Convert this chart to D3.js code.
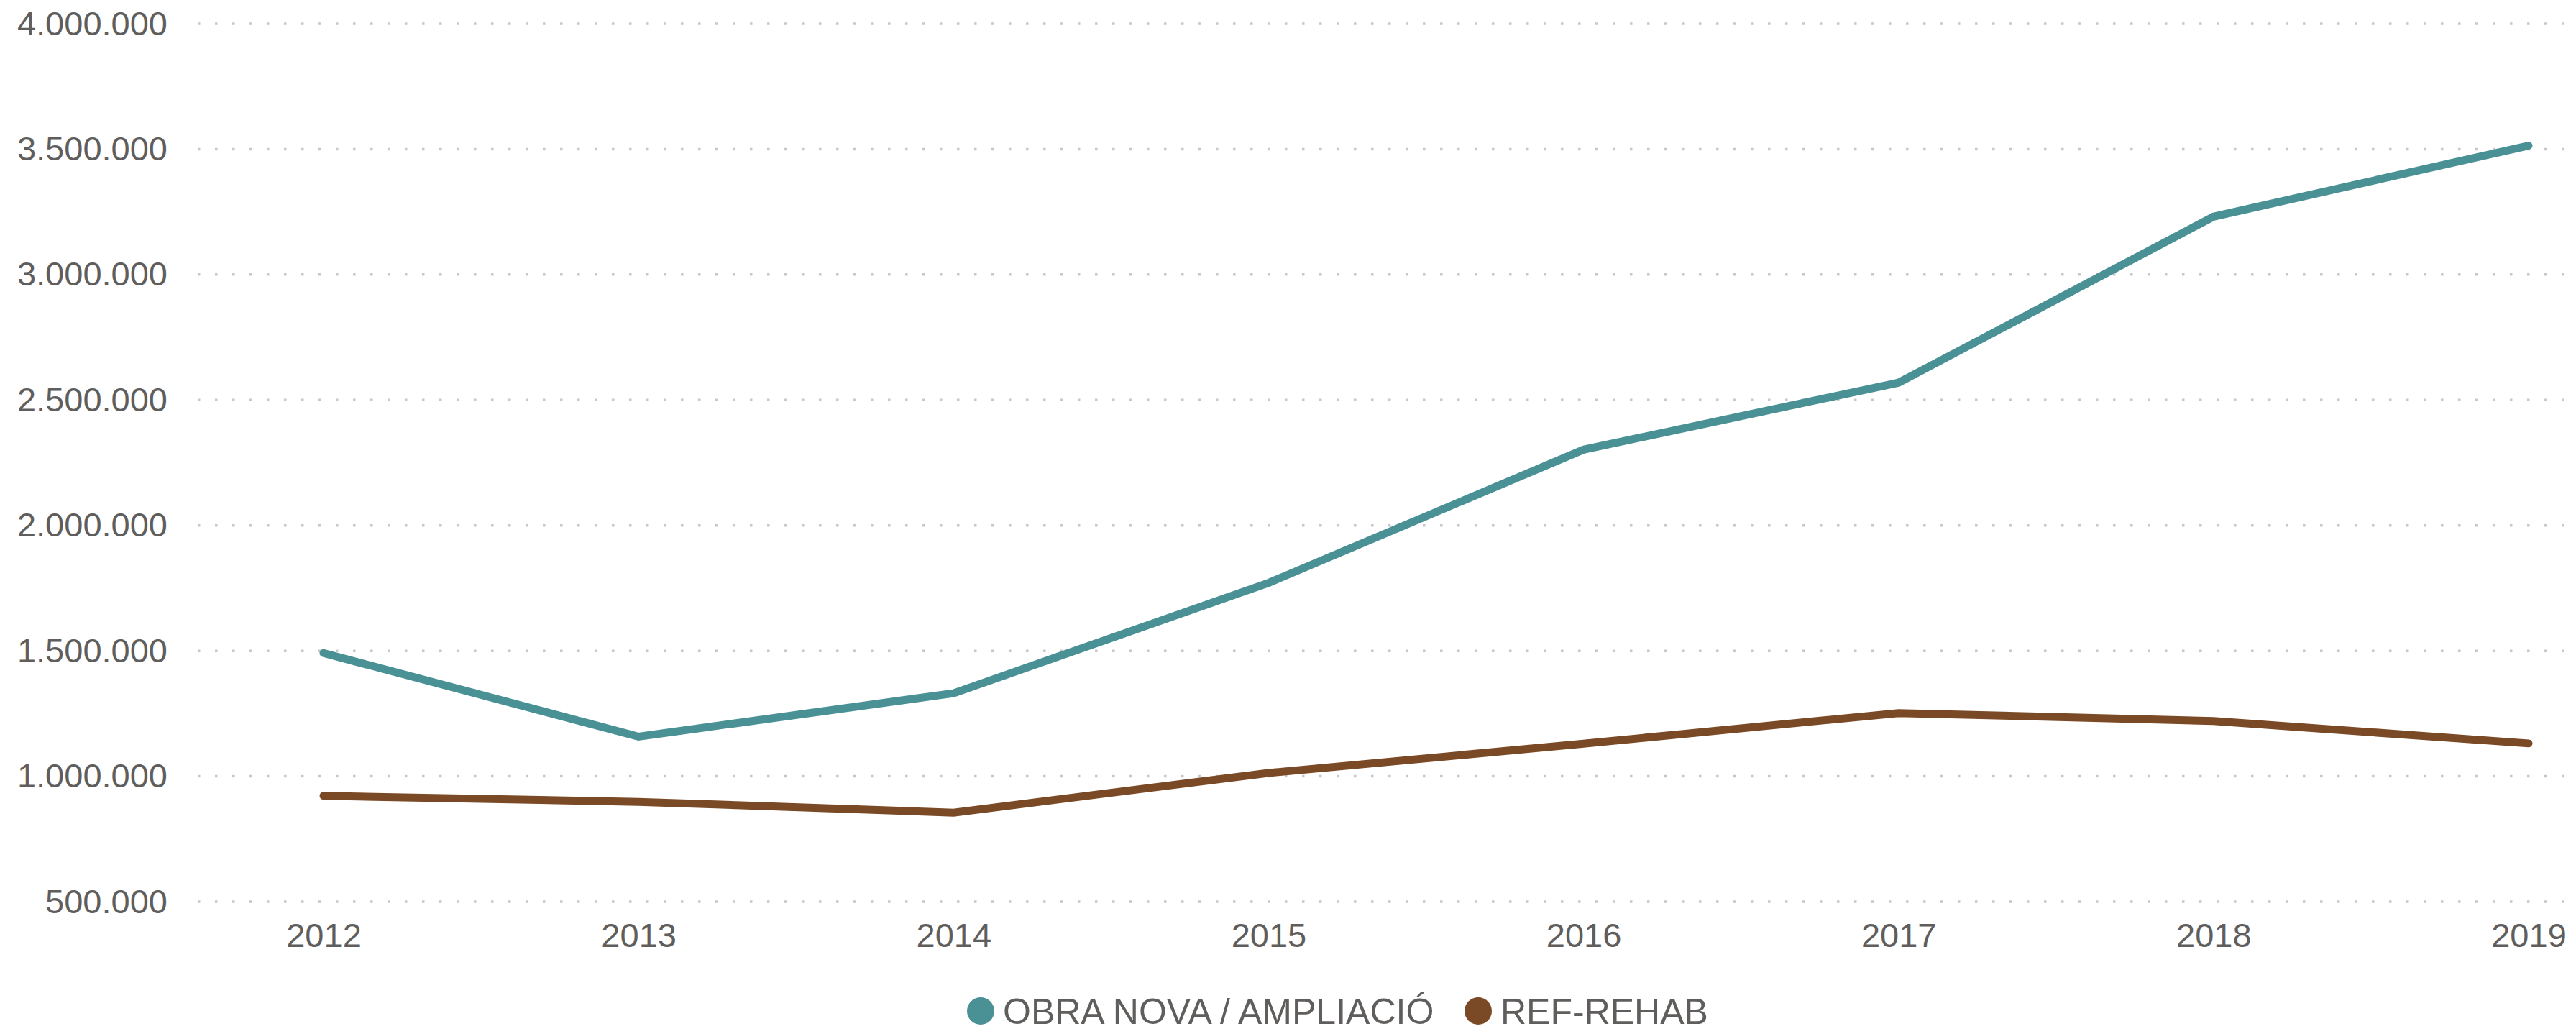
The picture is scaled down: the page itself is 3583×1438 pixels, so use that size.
<!DOCTYPE html>
<html lang="ca">
  <head>
    <meta charset="UTF-8" />
    <title>Obra nova / Ref-Rehab</title>
    <script src="https://cdn.jsdelivr.net/npm/d3@7"></script>
    <style>
      body {
        margin: 0;
        background: #fff;
      }
      svg {
        display: block;
        font-family: "Segoe UI", "Liberation Sans", Arial, sans-serif;
      }
    </style>
  </head>

  <body>
    <div id="chart"></div>
    <script>
      // dades
      const years = ["2012", "2013", "2014", "2015", "2016", "2017", "2018", "2019"];
      const obraNova = [1491000, 1158000, 1331000, 1771000, 2302000, 2569000, 3231000, 3514000];
      const refRehab = [922000, 898000, 855000, 1013000, 1130000, 1252000, 1220000, 1131000];
      const yTicks = [500000, 1000000, 1500000, 2000000, 2500000, 3000000, 3500000, 4000000];
      const seriesNames = ["OBRA NOVA / AMPLIACIÓ", "REF-REHAB"];
      const seriesColors = ["#4a9196", "#7a4925"];

      const width = 3583;
      const height = 1438;
      const textColor = "#605e5c";

      const locale = d3.formatLocale({
        decimal: ",",
        thousands: ".",
        grouping: [3],
        currency: ["", " €"],
      });
      const fmt = locale.format(",d");

      const svg = d3
        .select("#chart")
        .append("svg")
        .attr("width", width)
        .attr("height", height);

      // escales
      const x = d3.scalePoint().domain(years).range([450, 3517]);
      const y = d3.scaleLinear().domain([500000, 4000000]).range([1254, 33]);

      // línies de la graella
      svg
        .append("g")
        .selectAll("line")
        .data(yTicks)
        .enter()
        .append("line")
        .attr("x1", 275)
        .attr("x2", 3575)
        .attr("y1", (d) => y(d))
        .attr("y2", (d) => y(d))
        .attr("stroke", "#c8c8c8")
        .attr("stroke-width", 3.5)
        .attr("stroke-dasharray", "3.5,20.5");

      // eix Y
      const yAxis = svg
        .append("g")
        .attr("transform", "translate(233,0)")
        .call(d3.axisLeft(y).tickValues(yTicks).tickFormat(fmt).tickSize(0).tickPadding(0));
      yAxis.select(".domain").remove();
      yAxis
        .selectAll("text")
        .attr("fill", textColor)
        .attr("font-size", 47)
        .attr("font-family", null);

      // eix X
      const xAxis = svg
        .append("g")
        .attr("transform", "translate(0,1284)")
        .call(d3.axisBottom(x).tickSize(0).tickPadding(0));
      xAxis.select(".domain").remove();
      xAxis
        .selectAll("text")
        .attr("fill", textColor)
        .attr("font-size", 47)
        .attr("font-family", null);

      // línies
      const line = d3
        .line()
        .x((d, i) => x(years[i]))
        .y((d) => y(d));

      svg
        .selectAll("path.serie")
        .data([obraNova, refRehab])
        .enter()
        .append("path")
        .attr("class", "serie")
        .attr("d", (d) => line(d))
        .attr("fill", "none")
        .attr("stroke", (d, i) => seriesColors[i])
        .attr("stroke-width", 11)
        .attr("stroke-linecap", "round")
        .attr("stroke-linejoin", "miter");

      // llegenda
      const legendX = [1364, 2056];
      const legend = svg
        .append("g")
        .selectAll("g")
        .data(seriesNames)
        .enter()
        .append("g")
        .attr("transform", (d, i) => `translate(${legendX[i]},1406)`);

      legend
        .append("circle")
        .attr("r", 19)
        .attr("fill", (d, i) => seriesColors[i]);

      legend
        .append("text")
        .attr("x", 31)
        .attr("dy", "0.35em")
        .attr("fill", textColor)
        .attr("font-size", 50)
        .text((d) => d);
    </script>
  </body>
</html>
